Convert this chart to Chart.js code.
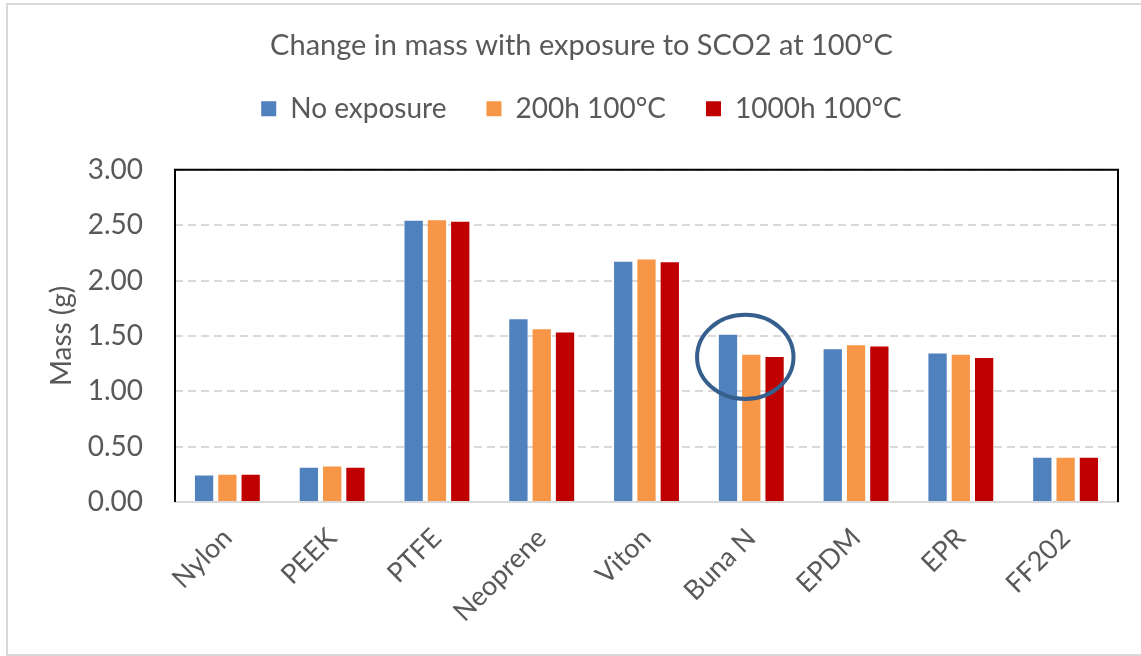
<!DOCTYPE html>
<html>
<head>
<meta charset="utf-8">
<script src="https://cdn.jsdelivr.net/npm/chart.js@4.4.0/dist/chart.umd.min.js"></script>
<style>
  body { margin: 0; background: #fff; }
  #wrap { width: 1141px; height: 656px; position: relative; }
</style>
</head>
<body>
<div id="wrap"><canvas id="myChart" width="1141" height="656"></canvas></div>
<script>
const materials = ["Nylon", "PEEK", "PTFE", "Neoprene", "Viton", "Buna N", "EPDM", "EPR", "FF202"];
const noExposure = [0.24, 0.31, 2.54, 1.65, 2.17, 1.51, 1.38, 1.34, 0.40];
const h200 = [0.245, 0.32, 2.545, 1.56, 2.19, 1.33, 1.415, 1.33, 0.40];
const h1000 = [0.245, 0.31, 2.53, 1.53, 2.165, 1.31, 1.405, 1.30, 0.40];
const seriesNames = ["No exposure", "200h 100°C", "1000h 100°C"];
const colors = ["#4f81bd", "#f79646", "#c00000"];

const FONT = "Lato, 'Noto Sans', sans-serif";
const GREY = "#595959";

// frame, black plot border and the hand drawn circle round Buna N
const decor = {
  id: "decor",
  afterDraw(chart) {
    const ctx = chart.ctx;
    const a = chart.chartArea;
    const x = chart.scales.x, y = chart.scales.y;
    ctx.save();
    ctx.strokeStyle = "#d9d9d9";
    ctx.lineWidth = 2;
    ctx.strokeRect(7, 4, 1150, 651);

    ctx.strokeStyle = "#000";
    ctx.lineWidth = 2;
    ctx.beginPath();
    ctx.moveTo(a.left, a.bottom);
    ctx.lineTo(a.left, a.top);
    ctx.lineTo(a.right, a.top);
    ctx.lineTo(a.right, a.bottom);
    ctx.stroke();

    // circle: centre just left of the Buna N group
    const cx = x.getPixelForValue(5) - 6;
    const cy = y.getPixelForValue(1.31);
    const rx = (x.getPixelForValue(1) - x.getPixelForValue(0)) * 0.46;
    const ry = y.getPixelForValue(0) - y.getPixelForValue(0.38);
    ctx.strokeStyle = "#365f8e";
    ctx.lineWidth = 4;
    ctx.beginPath();
    ctx.ellipse(cx, cy, rx, ry, 0, 0, Math.PI * 2);
    ctx.stroke();
    ctx.restore();
  }
};

// leave some room between the legend and the plot
const legendGap = {
  id: "legendGap",
  beforeLayout(chart) {
    const lg = chart.legend;
    if (lg && !lg._gapDone) {
      const fit = lg.fit.bind(lg);
      lg.fit = function () { fit(); this.height += 37; };
      lg._gapDone = true;
    }
  }
};

new Chart(document.getElementById("myChart"), {
  type: "bar",
  data: {
    labels: materials,
    datasets: [noExposure, h200, h1000].map((d, i) => ({
      label: seriesNames[i],
      data: d,
      backgroundColor: colors[i],
      borderWidth: 0,
      categoryPercentage: 0.667,
      barPercentage: 0.785
    }))
  },
  options: {
    responsive: false,
    animation: false,
    layout: { padding: { left: 45, right: 23, top: 0, bottom: 0 } },
    plugins: {
      title: {
        display: true,
        text: "Change in mass with exposure to SCO2 at 100°C",
        color: GREY,
        font: { family: FONT, size: 29, weight: "normal" },
        padding: { top: 28, bottom: -8 }
      },
      legend: {
        position: "top",
        labels: {
          color: GREY,
          font: { family: FONT, size: 28 },
          boxWidth: 15,
          boxHeight: 15,
          padding: 40
        }
      },
      tooltip: { enabled: false }
    },
    scales: {
      x: {
        grid: { display: false },
        border: { color: "#d9d9d9", width: 2 },
        ticks: {
          color: GREY,
          font: { family: FONT, size: 27 },
          minRotation: 45,
          maxRotation: 45,
          padding: 12
        },
        afterFit(scale) { scale.height = 154; }
      },
      y: {
        min: 0,
        max: 3,
        border: { display: false, dash: [8, 5] },
        grid: {
          color: "#d9d9d9",
          lineWidth: 2,
          drawTicks: false
        },
        ticks: {
          stepSize: 0.5,
          color: GREY,
          font: { family: FONT, size: 28 },
          padding: 32,
          callback: v => v.toFixed(2)
        },
        title: {
          display: true,
          text: "Mass (g)",
          color: GREY,
          font: { family: FONT, size: 28 },
          padding: 0
        },
        afterFit(scale) { scale.width = 130; }
      }
    }
  },
  plugins: [decor, legendGap]
});
</script>
</body>
</html>
